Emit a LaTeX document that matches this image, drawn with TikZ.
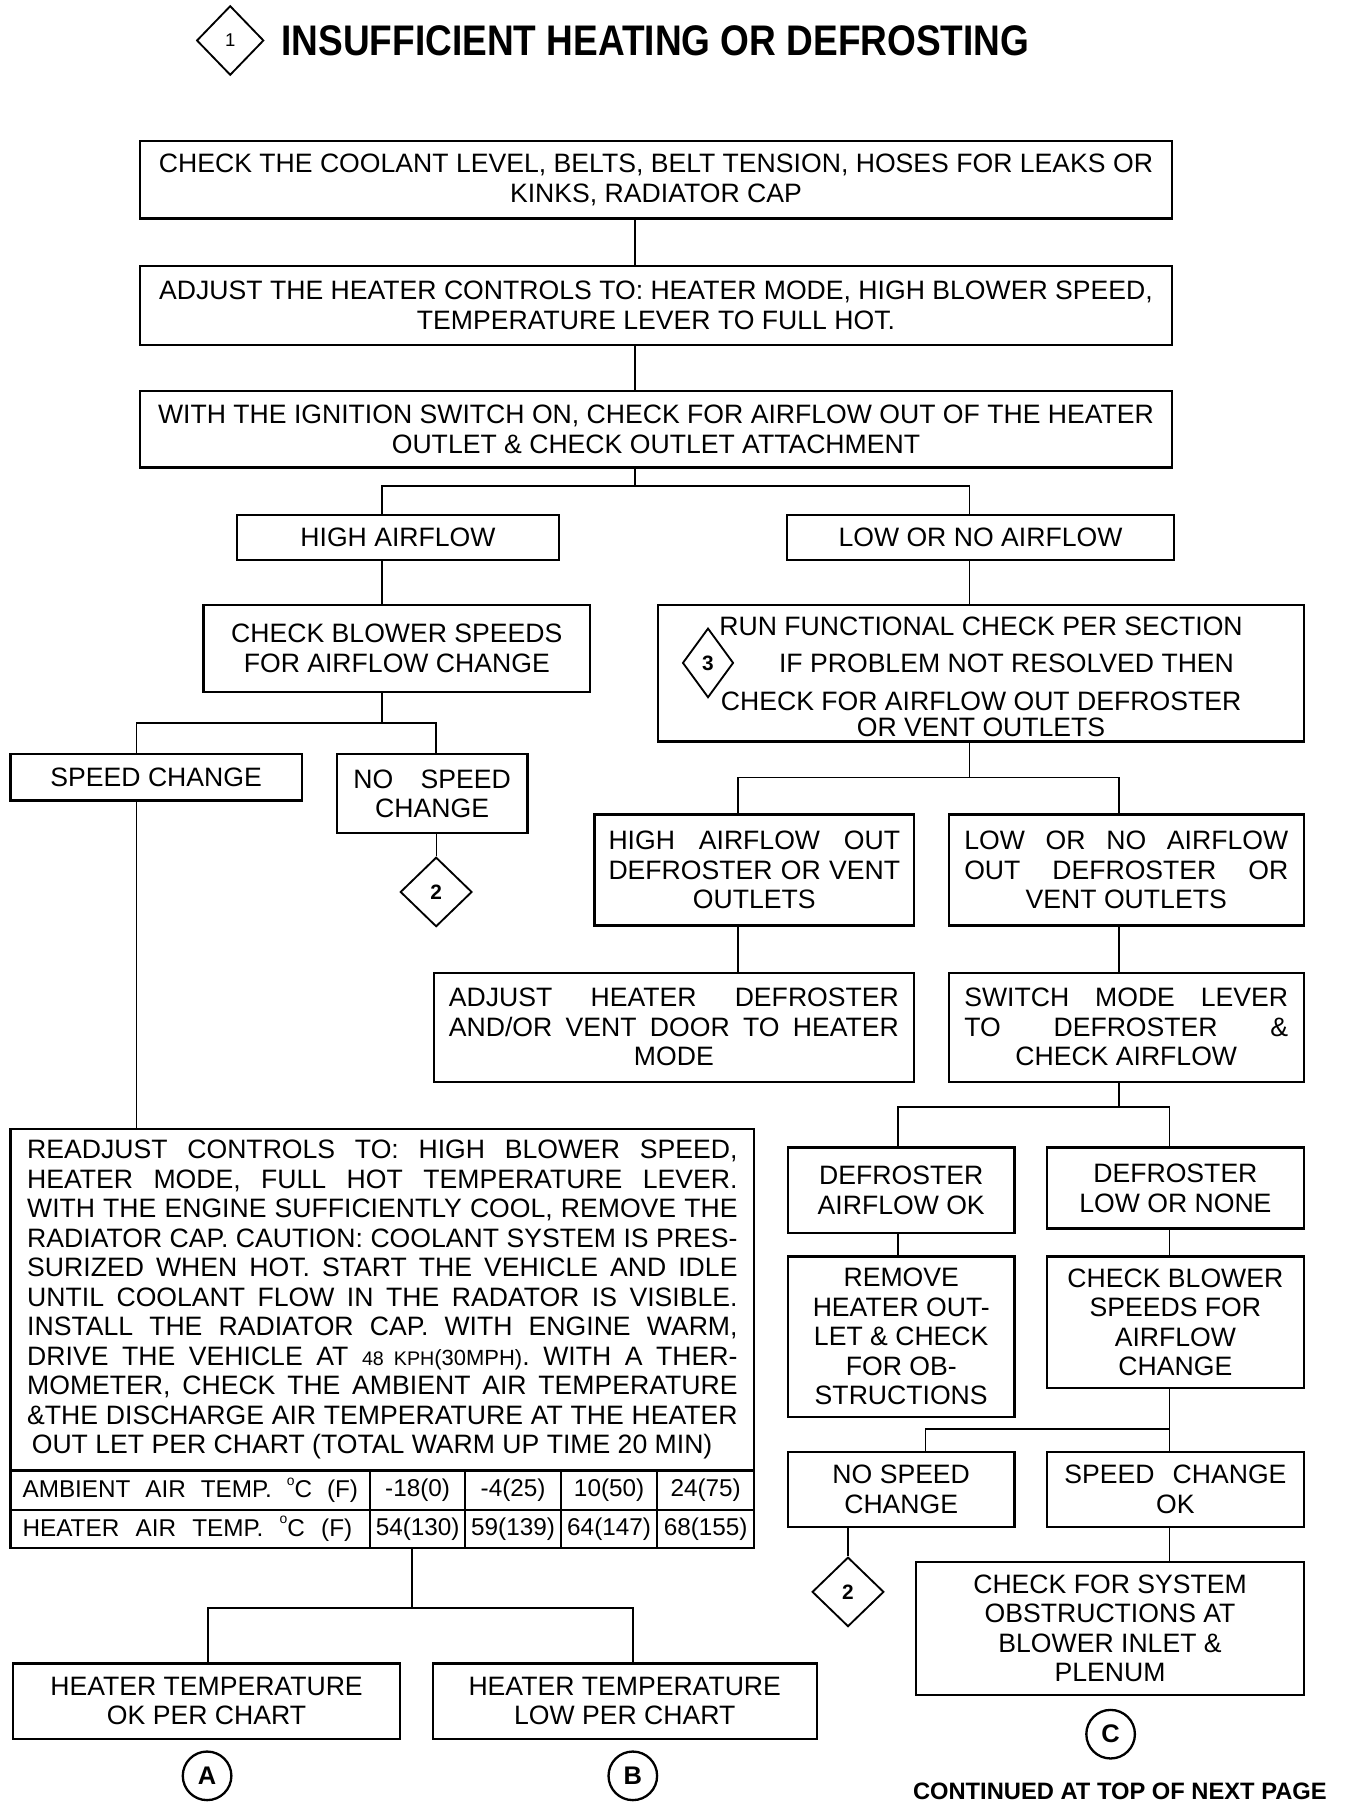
\documentclass[tikz,border=0pt]{standalone}
\usepackage{fontspec}
\setmainfont{Liberation Sans}
\usepackage{graphicx}
\usetikzlibrary{shapes.geometric}
\newcommand\body{\fontsize{23}{25.5}\selectfont}
\newcommand\tfont{\fontsize{21}{21}\selectfont}
\newcommand\jb[2]{\makebox[#1pt][s]{#2}}
\newcommand\dg{\raisebox{0.5em}{\fontsize{12}{12}\selectfont o}}
\newcommand\BX[6]{\node[box, minimum width={(#4-#2)*1pt}, minimum height={(#5-#3)*1pt}] (#1) at ({(#2+#4)/2},{(#3+#5)/2}) {#6};}
\newcommand\TC[6]{\node[box, font=\tfont, minimum width={(#4-#2)*1pt}, minimum height={(#5-#3)*1pt}] (#1) at ({(#2+#4)/2},{(#3+#5)/2}) {#6};}
\begin{document}
\begin{tikzpicture}[x=1pt,y=-1pt,
  box/.style={draw, line width=2pt, inner sep=0pt, align=center, font=\body},
  conn/.style={line width=1.4pt},
  thinconn/.style={line width=0.9pt},
  dia/.style={draw, diamond, line width=1.6pt, inner sep=0pt, font=\bfseries\fontsize{18}{18}\selectfont},
  ring/.style={draw, circle, line width=2pt, minimum size=42pt, inner sep=0pt, font=\bfseries\fontsize{22}{22}\selectfont},
  lbl/.style={inner sep=0pt, font=\body}]
\fill[white] (0,0) rectangle (1162,1568);
\useasboundingbox (0,0) rectangle (1162,1568);

% title
\node[dia, minimum width=58pt, minimum height=60pt, font=\fontsize{16}{16}\selectfont] (d1) at (199,35) {1};
\node[anchor=west, inner sep=0pt, font=\bfseries\fontsize{37}{37}\selectfont] (title) at (243,35) {\scalebox{0.865}[1]{INSUFFICIENT HEATING OR DEFROSTING}};

% top chain
\BX{b1}{121}{122}{1013}{189}{CHECK THE COOLANT LEVEL, BELTS, BELT TENSION, HOSES FOR LEAKS OR\\KINKS, RADIATOR CAP}
\BX{b2}{121}{230}{1013}{298}{ADJUST THE HEATER CONTROLS TO: HEATER MODE, HIGH BLOWER SPEED,\\TEMPERATURE LEVER TO FULL HOT.}
\BX{b3}{121}{338}{1013}{404}{WITH THE IGNITION SWITCH ON, CHECK FOR AIRFLOW OUT OF THE HEATER\\OUTLET \& CHECK OUTLET ATTACHMENT}

\BX{high}{205}{445}{483}{484}{HIGH AIRFLOW}
\BX{low}{680}{445}{1015}{484}{LOW OR NO AIRFLOW}
\BX{cbs}{176}{523}{510}{598}{CHECK BLOWER SPEEDS\\FOR AIRFLOW CHANGE}
\BX{run}{569}{523}{1127}{641}{}
\node[lbl] (run1) at (848,541) {RUN FUNCTIONAL CHECK PER SECTION};
\node[lbl] (run2) at (870,573) {IF PROBLEM NOT RESOLVED THEN};
\node[lbl] (run3) at (848,606) {CHECK FOR AIRFLOW OUT DEFROSTER};
\node[lbl] (run4) at (848,629) {OR VENT OUTLETS};
\node[dia, minimum width=44pt, minimum height=60pt] (d3) at (612,573) {3};

\BX{spd}{9}{652}{261}{692}{SPEED CHANGE}
\BX{nospd}{291}{652}{456}{720}{\jb{136}{NO SPEED}\\CHANGE}
\node[dia, minimum width=62pt, minimum height=60pt] (d2a) at (377,771) {2};

\BX{hao}{514}{704}{790}{800}{\jb{252}{HIGH AIRFLOW OUT}\\\jb{252}{DEFROSTER OR VENT}\\OUTLETS}
\BX{lna}{820}{704}{1127}{800}{\jb{280}{LOW OR NO AIRFLOW}\\\jb{280}{OUT DEFROSTER OR}\\VENT OUTLETS}
\BX{adj}{375}{841}{790}{935}{\jb{389}{ADJUST HEATER DEFROSTER}\\\jb{389}{AND/OR VENT DOOR TO HEATER}\\MODE}
\BX{sw}{820}{841}{1127}{935}{\jb{280}{SWITCH MODE LEVER}\\\jb{280}{TO DEFROSTER \&}\\CHECK AIRFLOW}

% right lower
\BX{dok}{681}{992}{877}{1066}{DEFROSTER\\AIRFLOW OK}
\BX{dlow}{905}{992}{1127}{1062}{DEFROSTER\\LOW OR NONE}
\BX{rem}{681}{1086}{877}{1225}{REMOVE\\HEATER OUT-\\LET \& CHECK\\FOR OB-\\STRUCTIONS}
\BX{cb2}{905}{1086}{1127}{1200}{CHECK BLOWER\\SPEEDS FOR\\AIRFLOW\\CHANGE}
\BX{nsc}{681}{1255}{877}{1320}{NO SPEED\\CHANGE}
\BX{sco}{905}{1255}{1127}{1320}{\jb{192}{SPEED CHANGE}\\OK}
\node[dia, minimum width=62pt, minimum height=60pt] (d2b) at (733,1376) {2};
\BX{cfs}{792}{1350}{1127}{1465}{CHECK FOR SYSTEM\\OBSTRUCTIONS AT\\BLOWER INLET \&\\PLENUM}
\node[ring] (cC) at (960,1499) {C};
\node[lbl, font=\bfseries\fontsize{20.5}{20.5}\selectfont] (cont) at (968,1548) {CONTINUED AT TOP OF NEXT PAGE};

% left lower
\BX{readj}{9}{976}{652}{1271}{\jb{614}{READJUST CONTROLS TO: HIGH BLOWER SPEED,}\\
\jb{614}{HEATER MODE, FULL HOT TEMPERATURE LEVER.}\\
\jb{614}{WITH THE ENGINE SUFFICIENTLY COOL, REMOVE THE}\\
\jb{614}{RADIATOR CAP. CAUTION: COOLANT SYSTEM IS PRES-}\\
\jb{614}{SURIZED WHEN HOT. START THE VEHICLE AND IDLE}\\
\jb{614}{UNTIL COOLANT FLOW IN THE RADATOR IS VISIBLE.}\\
\jb{614}{INSTALL THE RADIATOR CAP. WITH ENGINE WARM,}\\
\jb{614}{DRIVE THE VEHICLE AT {\fontsize{17}{17}\selectfont 48 KPH}{\fontsize{19}{19}\selectfont (30MPH)}. WITH A THER-}\\
\jb{614}{MOMETER, CHECK THE AMBIENT AIR TEMPERATURE}\\
\jb{614}{\&THE DISCHARGE AIR TEMPERATURE AT THE HEATER}\\
\makebox[614pt][l]{\hspace{4pt}OUT LET PER CHART (TOTAL WARM UP TIME 20 MIN)}}
\TC{t11}{9}{1271}{320}{1305}{\jb{290}{AMBIENT AIR TEMP. \dg C (F)}}
\TC{t12}{320}{1271}{402}{1305}{-18(0)}
\TC{t13}{402}{1271}{485}{1305}{-4(25)}
\TC{t14}{485}{1271}{568}{1305}{10(50)}
\TC{t15}{568}{1271}{652}{1305}{24(75)}
\TC{t21}{9}{1305}{320}{1338}{\jb{285}{HEATER AIR TEMP. \dg C (F)}\hspace{5pt}}
\TC{t22}{320}{1305}{402}{1338}{54(130)}
\TC{t23}{402}{1305}{485}{1338}{59(139)}
\TC{t24}{485}{1305}{568}{1338}{64(147)}
\TC{t25}{568}{1305}{652}{1338}{68(155)}

\BX{hok}{11}{1438}{346}{1503}{HEATER TEMPERATURE\\OK PER CHART}
\BX{hlow}{374}{1438}{706}{1503}{HEATER TEMPERATURE\\LOW PER CHART}
\node[ring] (cA) at (179,1535) {A};
\node[ring] (cB) at (547,1535) {B};

% connector coordinates
\coordinate (x549) at (549,0);
\coordinate (x330) at (330,0);
\coordinate (x838) at (838,0);
\coordinate (x118) at (118,0);
\coordinate (x377) at (377,0);
\coordinate (x638) at (638,0);
\coordinate (x967) at (967,0);
\coordinate (x776) at (776,0);
\coordinate (x1011) at (1011,0);
\coordinate (x800) at (800,0);
\coordinate (x733) at (733,0);
\coordinate (x356) at (356,0);
\coordinate (x180) at (180,0);
\coordinate (x547) at (547,0);
\coordinate (y420) at (0,420);
\coordinate (y625) at (0,625);
\coordinate (y672) at (0,672);
\coordinate (y957) at (0,957);
\coordinate (y1235) at (0,1235);
\coordinate (y1390) at (0,1390);

\draw[conn] (b1.south -| x549) -- (b2.north -| x549);
\draw[conn] (b2.south -| x549) -- (b3.north -| x549);
\draw[conn] (b3.south -| x549) -- (x549 |- y420);
\draw[conn] (high.north -| x330) -- (x330 |- y420) -- (x838 |- y420) -- (low.north -| x838);
\draw[conn] (high.south -| x330) -- (cbs.north -| x330);
\draw[conn] (low.south -| x838) -- (run.north -| x838);
\draw[conn] (cbs.south -| x330) -- (x330 |- y625);
\draw[conn] (spd.north -| x118) -- (x118 |- y625) -- (x377 |- y625) -- (nospd.north -| x377);
\draw[thinconn] (nospd.south -| x377) -- (d2a.north);
\draw[conn] (spd.south -| x118) -- (readj.north -| x118);
\draw[conn] (run.south -| x838) -- (x838 |- y672);
\draw[conn] (hao.north -| x638) -- (x638 |- y672) -- (x967 |- y672) -- (lna.north -| x967);
\draw[conn] (hao.south -| x638) -- (adj.north -| x638);
\draw[conn] (lna.south -| x967) -- (sw.north -| x967);
\draw[conn] (sw.south -| x967) -- (x967 |- y957);
\draw[conn] (dok.north -| x776) -- (x776 |- y957) -- (x1011 |- y957) -- (dlow.north -| x1011);
\draw[conn] (dok.south -| x776) -- (rem.north -| x776);
\draw[conn] (dlow.south -| x1011) -- (cb2.north -| x1011);
\draw[conn] (cb2.south -| x1011) -- (sco.north -| x1011);
\draw[conn] (nsc.north -| x800) -- (x800 |- y1235) -- (x1011 |- y1235);
\draw[conn] (nsc.south -| x733) -- (d2b.north);
\draw[conn] (sco.south -| x1011) -- (cfs.north -| x1011);
\draw[conn] (t22.south -| x356) -- (x356 |- y1390);
\draw[conn] (hok.north -| x180) -- (x180 |- y1390) -- (x547 |- y1390) -- (hlow.north -| x547);
\end{tikzpicture}
\end{document}
